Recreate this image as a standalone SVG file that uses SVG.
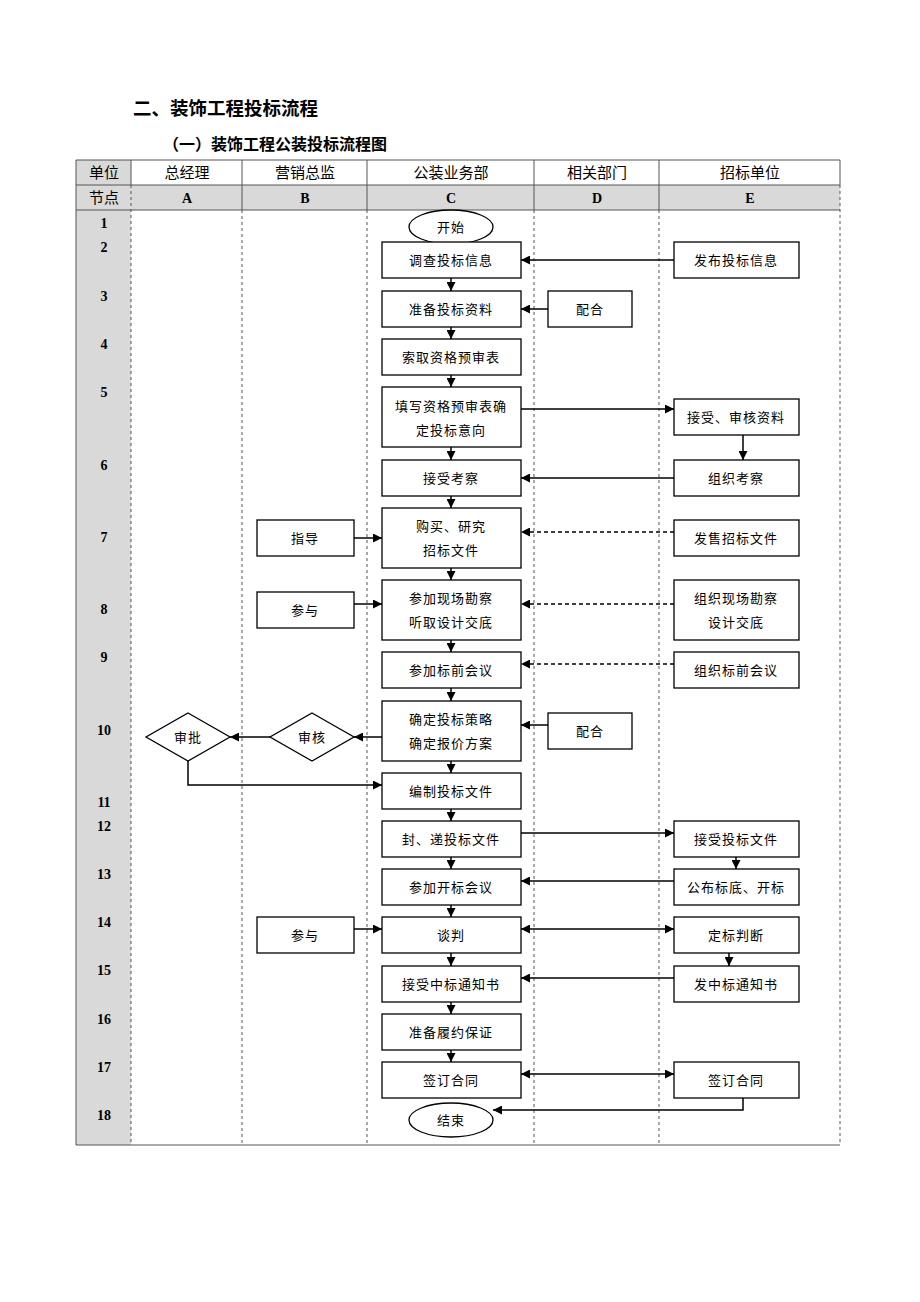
<svg xmlns="http://www.w3.org/2000/svg" width="920" height="1302" viewBox="0 0 920 1302">
<style>
text{font-family:"Liberation Serif","Noto Sans CJK SC",serif;fill:#000}
.t{font-size:13px;letter-spacing:1px;text-anchor:middle;dominant-baseline:central}
.h{font-size:15px;text-anchor:middle;dominant-baseline:central}
.b{font-size:14px;font-weight:bold;text-anchor:middle;dominant-baseline:central}
.n{fill:#fff;stroke:#000;stroke-width:1.3}
.c{fill:none;stroke:#000;stroke-width:1.5}
.d{fill:none;stroke:#000;stroke-width:1.5;stroke-dasharray:4,3}
.g{fill:none;stroke:#555;stroke-width:1;stroke-dasharray:3,3}
.grid{fill:none;stroke:#555;stroke-width:1}
</style>
<defs>
<marker id="a" viewBox="0 0 10 10" refX="10" refY="5" markerWidth="9" markerHeight="9" markerUnits="userSpaceOnUse" orient="auto-start-reverse"><path d="M0,0L10,5L0,10z" fill="#000"/></marker>
</defs>
<rect width="920" height="1302" fill="#fff"/>
<g id="titles">
<text x="133" y="107" style="font-size:18.5px;font-weight:bold;font-family:'Noto Sans CJK SC',sans-serif;dominant-baseline:central">二、装饰工程投标流程</text>
<text x="163" y="143" style="font-size:16px;font-weight:bold;font-family:'Noto Sans CJK SC',sans-serif;dominant-baseline:central">（一）装饰工程公装投标流程图</text>
</g>
<g id="table">
<rect x="76" y="160" width="55" height="985" fill="#d9d9d9"/>
<rect x="131" y="185" width="709" height="25" fill="#d9d9d9"/>
<line class="grid" x1="76" y1="160" x2="840" y2="160"/>
<line class="grid" x1="76" y1="185" x2="840" y2="185"/>
<line class="grid" x1="76" y1="210" x2="840" y2="210"/>
<line class="grid" x1="76" y1="1145" x2="840" y2="1145"/>
<line class="grid" x1="76" y1="160" x2="76" y2="1145"/>
<line class="grid" x1="840" y1="160" x2="840" y2="185"/>
<line class="grid" x1="131" y1="160" x2="131" y2="185"/>
<line class="grid" x1="242" y1="160" x2="242" y2="210"/>
<line class="grid" x1="367" y1="160" x2="367" y2="210"/>
<line class="grid" x1="534" y1="160" x2="534" y2="210"/>
<line class="grid" x1="659" y1="160" x2="659" y2="210"/>
<line class="g" x1="131" y1="185" x2="131" y2="1145"/>
<line class="g" x1="242" y1="210" x2="242" y2="1145"/>
<line class="g" x1="367" y1="210" x2="367" y2="1145"/>
<line class="g" x1="534" y1="210" x2="534" y2="1145"/>
<line class="g" x1="659" y1="210" x2="659" y2="1145"/>
<line class="g" x1="840" y1="185" x2="840" y2="1145"/>
<text class="h" x="104" y="173">单位</text>
<text class="h" x="187" y="173">总经理</text>
<text class="h" x="305" y="173">营销总监</text>
<text class="h" x="451" y="173">公装业务部</text>
<text class="h" x="597" y="173">相关部门</text>
<text class="h" x="750" y="173">招标单位</text>
<text class="h" x="104" y="198">节点</text>
<text class="b" x="187" y="198">A</text>
<text class="b" x="305" y="198">B</text>
<text class="b" x="451" y="198">C</text>
<text class="b" x="597" y="198">D</text>
<text class="b" x="750" y="198">E</text>
<text class="b" x="104" y="223">1</text>
<text class="b" x="104" y="247">2</text>
<text class="b" x="104" y="296">3</text>
<text class="b" x="104" y="344">4</text>
<text class="b" x="104" y="392">5</text>
<text class="b" x="104" y="465">6</text>
<text class="b" x="104" y="537">7</text>
<text class="b" x="104" y="609">8</text>
<text class="b" x="104" y="657">9</text>
<text class="b" x="104" y="730">10</text>
<text class="b" x="104" y="802">11</text>
<text class="b" x="104" y="826">12</text>
<text class="b" x="104" y="874">13</text>
<text class="b" x="104" y="922">14</text>
<text class="b" x="104" y="970">15</text>
<text class="b" x="104" y="1019">16</text>
<text class="b" x="104" y="1067">17</text>
<text class="b" x="104" y="1115">18</text>
</g>
<g id="connectors">
<line class="c" x1="451" y1="278" x2="451" y2="291" marker-end="url(#a)"/>
<line class="c" x1="451" y1="327" x2="451" y2="339" marker-end="url(#a)"/>
<line class="c" x1="451" y1="375" x2="451" y2="387" marker-end="url(#a)"/>
<line class="c" x1="451" y1="447" x2="451" y2="460" marker-end="url(#a)"/>
<line class="c" x1="451" y1="496" x2="451" y2="508" marker-end="url(#a)"/>
<line class="c" x1="451" y1="568" x2="451" y2="580" marker-end="url(#a)"/>
<line class="c" x1="451" y1="640" x2="451" y2="652" marker-end="url(#a)"/>
<line class="c" x1="451" y1="688" x2="451" y2="701" marker-end="url(#a)"/>
<line class="c" x1="451" y1="761" x2="451" y2="773" marker-end="url(#a)"/>
<line class="c" x1="451" y1="809" x2="451" y2="821" marker-end="url(#a)"/>
<line class="c" x1="451" y1="857" x2="451" y2="869" marker-end="url(#a)"/>
<line class="c" x1="451" y1="905" x2="451" y2="917" marker-end="url(#a)"/>
<line class="c" x1="451" y1="953" x2="451" y2="966" marker-end="url(#a)"/>
<line class="c" x1="451" y1="1002" x2="451" y2="1014" marker-end="url(#a)"/>
<line class="c" x1="451" y1="1050" x2="451" y2="1062" marker-end="url(#a)"/>
<line class="c" x1="674" y1="260" x2="521" y2="260" marker-end="url(#a)"/>
<line class="c" x1="548" y1="309" x2="521" y2="309" marker-end="url(#a)"/>
<line class="c" x1="521" y1="409" x2="674" y2="409" marker-end="url(#a)"/>
<line class="c" x1="743" y1="435" x2="743" y2="460" marker-end="url(#a)"/>
<line class="c" x1="674" y1="478" x2="521" y2="478" marker-end="url(#a)"/>
<line class="d" x1="674" y1="532" x2="521" y2="532" marker-end="url(#a)"/>
<line class="c" x1="354" y1="538" x2="382" y2="538" marker-end="url(#a)"/>
<line class="c" x1="354" y1="604" x2="382" y2="604" marker-end="url(#a)"/>
<line class="d" x1="674" y1="604" x2="521" y2="604" marker-end="url(#a)"/>
<line class="d" x1="674" y1="664" x2="521" y2="664" marker-end="url(#a)"/>
<line class="c" x1="548" y1="725" x2="521" y2="725" marker-end="url(#a)"/>
<line class="c" x1="382" y1="737" x2="354" y2="737" marker-end="url(#a)"/>
<line class="c" x1="270" y1="737" x2="230" y2="737" marker-end="url(#a)"/>
<polyline class="c" points="188,761 188,785 382,785" marker-end="url(#a)"/>
<line class="c" x1="521" y1="833" x2="674" y2="833" marker-end="url(#a)"/>
<line class="c" x1="736" y1="857" x2="736" y2="869" marker-end="url(#a)"/>
<line class="c" x1="674" y1="881" x2="521" y2="881" marker-end="url(#a)"/>
<line class="c" x1="354" y1="929" x2="382" y2="929" marker-end="url(#a)"/>
<line class="c" x1="521" y1="929" x2="674" y2="929" marker-start="url(#a)" marker-end="url(#a)"/>
<line class="c" x1="729" y1="953" x2="729" y2="966" marker-end="url(#a)"/>
<line class="c" x1="674" y1="978" x2="521" y2="978" marker-end="url(#a)"/>
<line class="c" x1="521" y1="1074" x2="674" y2="1074" marker-start="url(#a)" marker-end="url(#a)"/>
<polyline class="c" points="743,1098 743,1110 493,1110" marker-end="url(#a)"/>
</g>
<g id="c_start"><ellipse class="n" cx="451" cy="227" rx="42" ry="17"/><text class="t" x="451" y="227">开始</text></g>
<g id="c2"><rect class="n" x="382" y="242" width="139" height="36"/><text class="t" x="451" y="260">调查投标信息</text></g>
<g id="c3"><rect class="n" x="382" y="291" width="139" height="36"/><text class="t" x="451" y="309">准备投标资料</text></g>
<g id="c4"><rect class="n" x="382" y="339" width="139" height="36"/><text class="t" x="451" y="357">索取资格预审表</text></g>
<g id="c5"><rect class="n" x="382" y="387" width="139" height="60"/><text class="t" x="451" y="406">填写资格预审表确</text><text class="t" x="451" y="430">定投标意向</text></g>
<g id="c6"><rect class="n" x="382" y="460" width="139" height="36"/><text class="t" x="451" y="478">接受考察</text></g>
<g id="c7"><rect class="n" x="382" y="508" width="139" height="60"/><text class="t" x="451" y="526">购买、研究</text><text class="t" x="451" y="550">招标文件</text></g>
<g id="c8"><rect class="n" x="382" y="580" width="139" height="60"/><text class="t" x="451" y="598">参加现场勘察</text><text class="t" x="451" y="622">听取设计交底</text></g>
<g id="c9"><rect class="n" x="382" y="652" width="139" height="36"/><text class="t" x="451" y="670">参加标前会议</text></g>
<g id="c10"><rect class="n" x="382" y="701" width="139" height="60"/><text class="t" x="451" y="719">确定投标策略</text><text class="t" x="451" y="743">确定报价方案</text></g>
<g id="c11"><rect class="n" x="382" y="773" width="139" height="36"/><text class="t" x="451" y="791">编制投标文件</text></g>
<g id="c12"><rect class="n" x="382" y="821" width="139" height="36"/><text class="t" x="451" y="839">封、递投标文件</text></g>
<g id="c13"><rect class="n" x="382" y="869" width="139" height="36"/><text class="t" x="451" y="887">参加开标会议</text></g>
<g id="c14"><rect class="n" x="382" y="917" width="139" height="36"/><text class="t" x="451" y="935">谈判</text></g>
<g id="c15"><rect class="n" x="382" y="966" width="139" height="36"/><text class="t" x="451" y="984">接受中标通知书</text></g>
<g id="c16"><rect class="n" x="382" y="1014" width="139" height="36"/><text class="t" x="451" y="1032">准备履约保证</text></g>
<g id="c17"><rect class="n" x="382" y="1062" width="139" height="36"/><text class="t" x="451" y="1080">签订合同</text></g>
<g id="c_end"><ellipse class="n" cx="451" cy="1120" rx="42" ry="17"/><text class="t" x="451" y="1120">结束</text></g>
<g id="e2"><rect class="n" x="674" y="242" width="125" height="36"/><text class="t" x="736" y="260">发布投标信息</text></g>
<g id="e5"><rect class="n" x="674" y="399" width="125" height="36"/><text class="t" x="736" y="417">接受、审核资料</text></g>
<g id="e6"><rect class="n" x="674" y="460" width="125" height="36"/><text class="t" x="736" y="478">组织考察</text></g>
<g id="e7"><rect class="n" x="674" y="520" width="125" height="36"/><text class="t" x="736" y="538">发售招标文件</text></g>
<g id="e8"><rect class="n" x="674" y="580" width="125" height="60"/><text class="t" x="736" y="598">组织现场勘察</text><text class="t" x="736" y="622">设计交底</text></g>
<g id="e9"><rect class="n" x="674" y="652" width="125" height="36"/><text class="t" x="736" y="670">组织标前会议</text></g>
<g id="e12"><rect class="n" x="674" y="821" width="125" height="36"/><text class="t" x="736" y="839">接受投标文件</text></g>
<g id="e13"><rect class="n" x="674" y="869" width="125" height="36"/><text class="t" x="736" y="887">公布标底、开标</text></g>
<g id="e14"><rect class="n" x="674" y="917" width="125" height="36"/><text class="t" x="736" y="935">定标判断</text></g>
<g id="e15"><rect class="n" x="674" y="966" width="125" height="36"/><text class="t" x="736" y="984">发中标通知书</text></g>
<g id="e17"><rect class="n" x="674" y="1062" width="125" height="36"/><text class="t" x="736" y="1080">签订合同</text></g>
<g id="d3"><rect class="n" x="548" y="291" width="84" height="36"/><text class="t" x="590" y="309">配合</text></g>
<g id="d10"><rect class="n" x="548" y="713" width="84" height="36"/><text class="t" x="590" y="731">配合</text></g>
<g id="b7"><rect class="n" x="257" y="520" width="97" height="36"/><text class="t" x="305" y="538">指导</text></g>
<g id="b8"><rect class="n" x="257" y="592" width="97" height="36"/><text class="t" x="305" y="610">参与</text></g>
<g id="b14"><rect class="n" x="257" y="917" width="97" height="36"/><text class="t" x="305" y="935">参与</text></g>
<g id="b10"><polygon class="n" points="312,713 354,737 312,761 270,737"/><text class="t" x="312" y="737">审核</text></g>
<g id="a10"><polygon class="n" points="188,713 230,737 188,761 146,737"/><text class="t" x="188" y="737">审批</text></g>
</svg>
